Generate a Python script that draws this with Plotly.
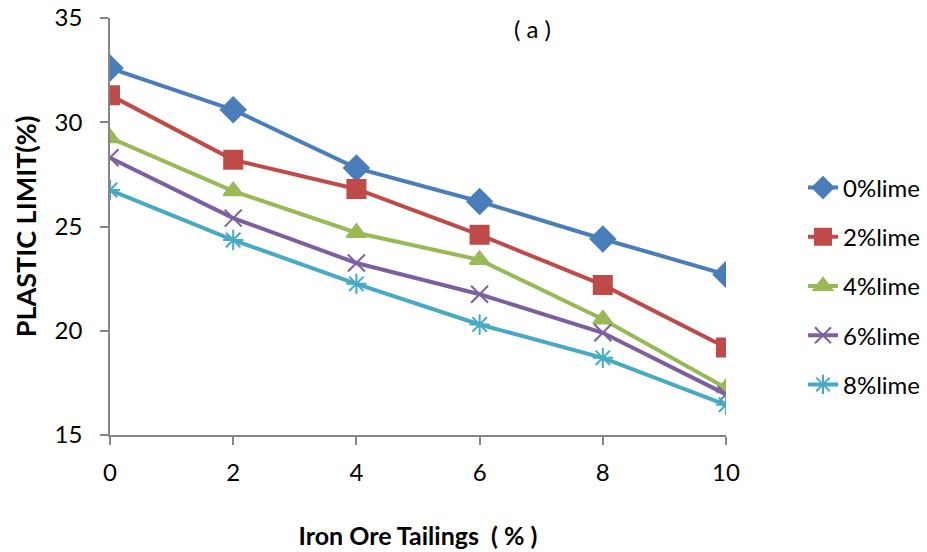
import plotly.graph_objects as go

x_vals = [0, 2, 4, 6, 8, 10]
series_names = ["0%lime", "2%lime", "4%lime", "6%lime", "8%lime"]
lime0 = [32.6, 30.6, 27.8, 26.2, 24.4, 22.7]
lime2 = [31.3, 28.2, 26.8, 24.6, 22.2, 19.2]
lime4 = [29.25, 26.7, 24.7, 23.4, 20.55, 17.25]
lime6 = [28.3, 25.4, 23.25, 21.75, 19.9, 16.95]
lime8 = [26.75, 24.35, 22.25, 20.3, 18.7, 16.45]
series_values = [lime0, lime2, lime4, lime6, lime8]
colors = ["#4a7ebb", "#be4b48", "#98b954", "#7d5fa0", "#46aac5"]
symbols = ["diamond", "square", "triangle-up", "x-thin", "asterisk"]
sizes = [19, 18, 17, 17, 17]
y_ticks = [15, 20, 25, 30, 35]
x_ticks = [0, 2, 4, 6, 8, 10]

FONT = "Lato, 'Open Sans', sans-serif"

L, T, PW, PH = 110, 18, 616, 417

fig = go.Figure()
for name, vals, c, s, sz in zip(series_names, series_values, colors, symbols, sizes):
    fig.add_trace(go.Scatter(
        x=x_vals, y=vals, name=name, mode="lines+markers", legendgroup=name,
        line=dict(color=c, width=4),
        marker=dict(symbol=s, size=sz, color=c, line=dict(color=c, width=2)),
    ))

fig.update_layout(
    width=927, height=552,
    margin=dict(l=L, r=927 - L - PW, t=T, b=552 - T - PH, autoexpand=False),
    paper_bgcolor="white", plot_bgcolor="white",
    font=dict(family=FONT, size=24, color="#000"),
    showlegend=True,
    legend=dict(x=(803 - L) / PW, y=1 - (286 - T) / PH, xanchor="left", yanchor="middle",
                font=dict(size=24), tracegroupgap=15,
                bgcolor="rgba(0,0,0,0)"),
    annotations=[dict(text="( a )", x=(532 - L) / PW, y=1 - (29 - T) / PH,
                      xref="paper", yref="paper", xanchor="center", yanchor="middle",
                      showarrow=False, font=dict(size=24))],
)

fig.update_xaxes(range=[0, 10], tickvals=x_ticks, showgrid=False, zeroline=False,
                 automargin=False, ticklabeloverflow="allow",
                 showline=True, linecolor="#868686", linewidth=1.5,
                 ticks="outside", ticklen=8, tickcolor="#868686", tickwidth=1.5,
                 ticklabelstandoff=7,
                 title=dict(text="<b>Iron Ore Tailings  ( % )</b>", font=dict(size=25), standoff=43))
fig.update_yaxes(range=[15, 35], tickvals=y_ticks, showgrid=False, zeroline=False,
                 automargin=False, ticklabeloverflow="allow",
                 showline=True, linecolor="#868686", linewidth=1.5,
                 ticks="outside", ticklen=8, tickcolor="#868686", tickwidth=1.5,
                 ticklabelstandoff=13,
                 title=dict(text="<b>PLASTIC LIMIT(%)</b>", font=dict(size=27), standoff=10))

fig.write_html("out.html", config={"displayModeBar": False},
               post_script="document.body.style.margin='0';")
